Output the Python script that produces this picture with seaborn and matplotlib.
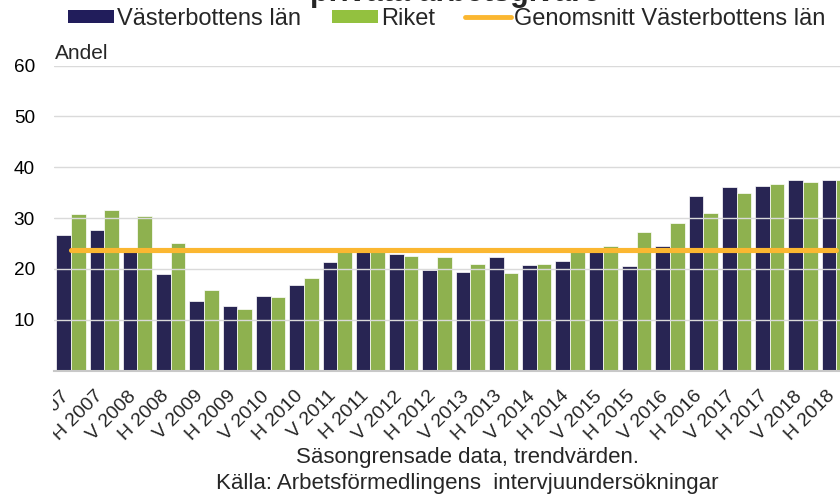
import numpy as np
import pandas as pd
import matplotlib
matplotlib.use("Agg")
import matplotlib.pyplot as plt
from matplotlib.patches import Patch
from matplotlib.lines import Line2D
from matplotlib.transforms import ScaledTranslation, Bbox, TransformedBbox
import seaborn as sns

# ---- data ----
perioder = ["V 2007", "H 2007", "V 2008", "H 2008", "V 2009", "H 2009",
            "V 2010", "H 2010", "V 2011", "H 2011", "V 2012", "H 2012",
            "V 2013", "H 2013", "V 2014", "H 2014", "V 2015", "H 2015",
            "V 2016", "H 2016", "V 2017", "H 2017", "V 2018", "H 2018"]
vasterbotten = [26.6, 27.6, 23.5, 19.1, 13.7, 12.7, 14.6, 16.9, 21.4, 24.0, 23.0, 19.7,
                19.4, 22.4, 20.7, 21.6, 24.0, 20.5, 24.5, 34.3, 36.2, 36.4, 37.5, 37.5]
riket = [30.9, 31.6, 30.5, 25.2, 15.9, 12.2, 14.4, 18.2, 23.7, 23.9, 22.6, 22.4,
         20.9, 19.2, 20.9, 23.5, 24.5, 27.3, 29.0, 31.1, 34.9, 36.8, 37.0, 37.5]
genomsnitt = 23.8
serie_namn = ["Västerbottens län", "Riket", "Genomsnitt Västerbottens län"]
yticks = [10, 20, 30, 40, 50, 60]

navy = "#211D5B"
green = "#93C13F"
orange = "#FBB731"

df = pd.DataFrame({
    "period": perioder * 2,
    "varde": vasterbotten + riket,
    "serie": [serie_namn[0]] * len(perioder) + [serie_namn[1]] * len(perioder),
})
df_avg = pd.DataFrame({"period": perioder, "varde": [genomsnitt] * len(perioder)})

sns.set_style("white")
plt.rcParams["font.family"] = ["Liberation Sans", "DejaVu Sans"]

fig = plt.figure(figsize=(8.4, 4.95), dpi=100)
W, H = 840, 495
ax_left, ax_right, ax_bottom, ax_top = 54.3, 853, 370.7, 65.5
ax = fig.add_axes([ax_left / W, 1 - ax_bottom / H, (ax_right - ax_left) / W, (ax_bottom - ax_top) / H])

for yv in yticks:
    ax.axhline(yv, color="#DADADA", lw=1.0, zorder=0)

sns.barplot(data=df, x="period", y="varde", hue="serie", order=perioder,
            hue_order=serie_namn[:2], palette=[navy, green], width=0.88,
            edgecolor="white", linewidth=0.5, ax=ax, legend=False, zorder=2)
sns.pointplot(data=df_avg, x="period", y="varde", order=perioder, color=orange,
              marker="", linewidth=3.7, errorbar=None, ax=ax)
for l in ax.lines:
    l.set_zorder(4)

ax.set_xlim(-0.5, len(perioder) - 0.5)
ax.set_ylim(0, 60)
ax.set_yticks(yticks)
ax.set_yticklabels([str(v) for v in yticks], fontsize=13.7, color="#000000")
ax.set_xlabel("")
ax.set_ylabel("")
for s in ["top", "right", "left"]:
    ax.spines[s].set_visible(False)
ax.spines["bottom"].set_color("#C8C8C8")
ax.spines["bottom"].set_linewidth(1.5)
ax.tick_params(axis="y", length=0, pad=14)
ax.tick_params(axis="x", length=0, pad=16.5)
ax.set_xticks(range(len(perioder)))
ax.set_xticklabels(perioder, rotation=45, ha="right", va="center",
                   rotation_mode="anchor", fontsize=14)
off = ScaledTranslation(-4 / 100, 0, fig.dpi_scale_trans)
clip = TransformedBbox(Bbox([[53 / W, 0], [1, 1]]), fig.transFigure)
for lab in ax.get_xticklabels():
    lab.set_transform(lab.get_transform() + off)
    lab.set_clip_box(clip)
    lab.set_clip_on(True)

# labels / texts
fig.text(55 / W, 1 - 59 / H, "Andel", fontsize=15, va="baseline", ha="left")
fig.text(455 / W, 1 - 1 / H, "privata arbetsgivare", fontsize=22, fontweight="bold",
         va="baseline", ha="center")
fig.text(468 / W, 1 - 458 / H, "Säsongrensade data, trendvärden.", fontsize=16,
         ha="center", va="center")
fig.text(467 / W, 1 - 484 / H, "Källa: Arbetsförmedlingens  intervjuundersökningar",
         fontsize=16, ha="center", va="center")

handles = [Patch(facecolor=navy, edgecolor="none"),
           Patch(facecolor=green, edgecolor="none"),
           Line2D([0], [0], color=orange, lw=3.5)]
fig.legend(handles, serie_namn, loc="center", bbox_to_anchor=(447 / W, 1 - 19 / H),
           ncol=3, frameon=False, fontsize=17, handlelength=1.95, handleheight=0.5,
           handletextpad=0.12, columnspacing=1.3, borderaxespad=0, borderpad=0)

fig.savefig("out.png", dpi=100)
